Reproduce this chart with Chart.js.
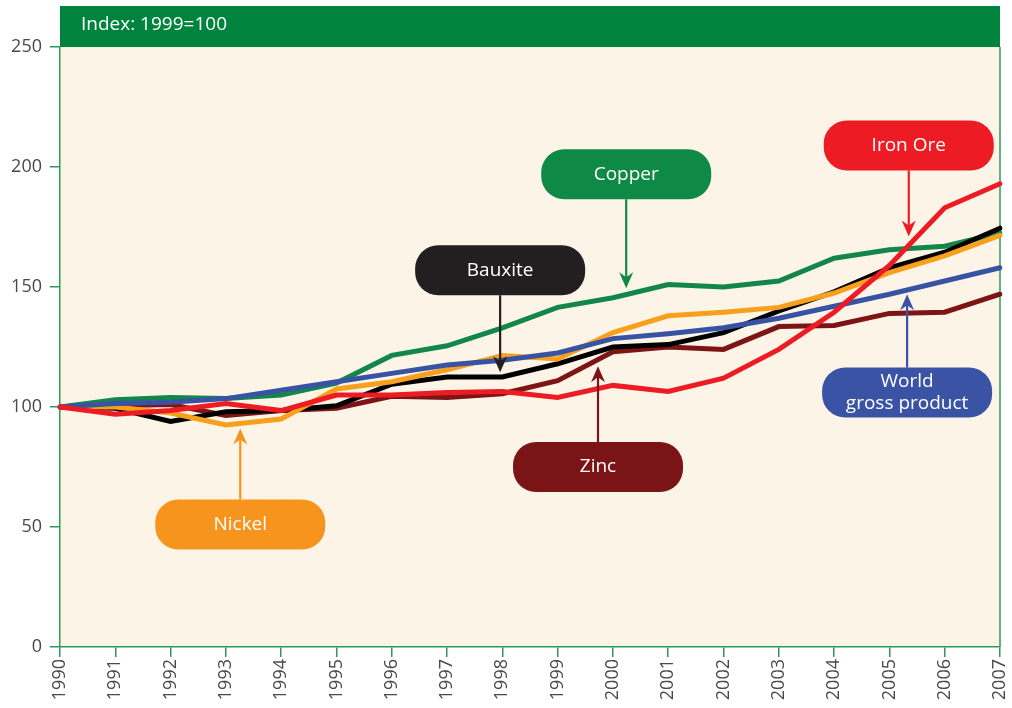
<!DOCTYPE html>
<html lang="en">
<head>
  <meta charset="UTF-8" />
  <title>Metal production index</title>
  <script src="https://cdn.jsdelivr.net/npm/chart.js"></script>
  <style>
    html, body { margin: 0; padding: 0; background: #fff; }
    #wrap { width: 1012px; height: 708px; }
  </style>
</head>
<body>
  <div id="wrap"><canvas id="chart" width="1012" height="708"></canvas></div>
  <script>
    const years = ['1990','1991','1992','1993','1994','1995','1996','1997','1998','1999',
                   '2000','2001','2002','2003','2004','2005','2006','2007'];
    const yTicks = [0, 50, 100, 150, 200, 250];

    const copper  = [100, 103, 104, 103.5, 105, 110, 121.5, 125.5, 133, 141.5, 145.5, 151, 150, 152.5, 162, 165.5, 167, 172.5];
    const ironOre = [100, 97, 98.5, 101.5, 98.5, 105, 105, 106, 106.5, 104, 109, 106.5, 112, 124, 139.5, 159, 183, 193];
    const zinc    = [100, 100.5, 101, 96.5, 98.5, 99.5, 104.5, 104, 105.5, 111, 123, 125, 124, 133.5, 134, 139, 139.5, 147];
    const bauxite = [100, 99.5, 94, 98, 98.5, 100.5, 109.5, 112.5, 112.5, 118, 125, 126, 131, 140, 148, 158, 164.5, 174.5];
    const nickel  = [100, 100, 97.5, 92.5, 95, 107.5, 110.5, 115.5, 121.5, 120, 131, 138, 139.5, 141.5, 147.5, 156, 163, 171.5];
    const world   = [100, 101.5, 102, 103.5, 107, 110.5, 114, 117.5, 119.5, 122.5, 128.5, 130.5, 133, 137, 142, 147, 152.5, 158];

    // label boxes: centre (x as year index, y as value) and arrow tip value
    const notes = [
      { text: ['Copper'], color: '#0f8a46', x: 10.24, y: 197, tip: 149.5 },
      { text: ['Bauxite'], color: '#231f20', x: 7.96, y: 157, tip: 114.5 },
      { text: ['Iron Ore'], color: '#ed1c24', x: 15.35, y: 209, tip: 171 },
      { text: ['Zinc'], color: '#7b1416', x: 9.73, y: 75, tip: 117 },
      { text: ['World', 'gross product'], color: '#3a53a4', x: 15.32, y: 106, tip: 147 },
      { text: ['Nickel'], color: '#f7941d', x: 3.26, y: 51, tip: 91 }
    ];

    const FONT = '"Open Sans", "Noto Sans", sans-serif';
    const GREEN = '#2e9a5a';

    function xPix(scale, v) {
      const p0 = scale.getPixelForValue(0);
      const p1 = scale.getPixelForValue(1);
      return p0 + v * (p1 - p0);
    }

    function roundRect(ctx, x, y, w, h, r) {
      ctx.beginPath();
      ctx.moveTo(x + r, y);
      ctx.arcTo(x + w, y, x + w, y + h, r);
      ctx.arcTo(x + w, y + h, x, y + h, r);
      ctx.arcTo(x, y + h, x, y, r);
      ctx.arcTo(x, y, x + w, y, r);
      ctx.closePath();
    }

    const frame = {
      id: 'frame',
      beforeDraw(chart) {
        const { ctx, chartArea: a } = chart;
        ctx.save();
        ctx.fillStyle = '#fcf5e7';
        ctx.fillRect(a.left, a.top, a.right - a.left, a.bottom - a.top);
        ctx.fillStyle = '#00843d';
        ctx.fillRect(a.left, 6, a.right - a.left, a.top - 6);
        ctx.fillStyle = '#fff';
        ctx.font = '19px ' + FONT;
        ctx.textBaseline = 'middle';
        ctx.fillText('Index: 1999=100', a.left + 21, 25);
        ctx.strokeStyle = GREEN;
        ctx.lineWidth = 1.5;
        ctx.beginPath();
        ctx.moveTo(a.right, a.top);
        ctx.lineTo(a.right, a.bottom);
        ctx.stroke();
        ctx.restore();
      },
      afterDatasetsDraw(chart) {
        const { ctx } = chart;
        const xs = chart.scales.x, ys = chart.scales.y;
        const w = 170, h = 50;
        ctx.save();
        notes.forEach(n => {
          const cx = xPix(xs, n.x);
          const cy = ys.getPixelForValue(n.y);
          const tipY = ys.getPixelForValue(n.tip);
          const up = tipY < cy;
          const startY = up ? cy - h / 2 : cy + h / 2;
          const dir = up ? -1 : 1;
          // arrow shaft
          ctx.strokeStyle = n.color;
          ctx.lineWidth = 2.2;
          ctx.beginPath();
          ctx.moveTo(cx, startY);
          ctx.lineTo(cx, tipY - dir * 8);
          ctx.stroke();
          // arrow head
          ctx.fillStyle = n.color;
          ctx.beginPath();
          ctx.moveTo(cx, tipY);
          ctx.lineTo(cx - 7, tipY - dir * 16);
          ctx.lineTo(cx, tipY - dir * 11);
          ctx.lineTo(cx + 7, tipY - dir * 16);
          ctx.closePath();
          ctx.fill();
          // box
          roundRect(ctx, cx - w / 2, cy - h / 2, w, h, 23);
          ctx.fill();
          ctx.fillStyle = '#fff';
          ctx.font = '19px ' + FONT;
          ctx.textAlign = 'center';
          ctx.textBaseline = 'middle';
          if (n.text.length === 1) {
            ctx.fillText(n.text[0], cx, cy);
          } else {
            ctx.fillText(n.text[0], cx, cy - 11);
            ctx.fillText(n.text[1], cx, cy + 11);
          }
        });
        ctx.restore();
      }
    };

    function ds(label, data, color) {
      return {
        label, data,
        borderColor: color,
        borderWidth: 5,
        pointRadius: 0,
        tension: 0,
        fill: false,
        borderJoinStyle: 'miter',
        borderCapStyle: 'round'
      };
    }

    new Chart(document.getElementById('chart'), {
      type: 'line',
      data: {
        labels: years,
        datasets: [
          ds('Iron Ore', ironOre, '#ed1c24'),
          ds('World gross product', world, '#3953a4'),
          ds('Nickel', nickel, '#f8a01c'),
          ds('Bauxite', bauxite, '#000000'),
          ds('Zinc', zinc, '#7d1416'),
          ds('Copper', copper, '#13874a')
        ]
      },
      options: {
        responsive: false,
        animation: false,
        layout: { padding: { top: 47, right: 0, left: 0, bottom: 0 } },
        plugins: {
          legend: { display: false },
          tooltip: { enabled: false }
        },
        scales: {
          x: {
            offset: false,
            grid: { drawOnChartArea: false, color: GREEN, tickLength: 10, lineWidth: 1.5 },
            border: { color: GREEN, width: 1.5 },
            ticks: {
              color: '#4a4a4a',
              font: { family: FONT, size: 18 },
              minRotation: 90, maxRotation: 90,
              padding: 2
            },
            afterFit(s) { s.height = 61; s.paddingRight = 12; }
          },
          y: {
            min: 0, max: 250,
            afterBuildTicks(s) { s.ticks = yTicks.map(v => ({ value: v })); },
            grid: { drawOnChartArea: false, color: GREEN, tickLength: 10, lineWidth: 1.5 },
            border: { color: GREEN, width: 1.5 },
            ticks: {
              color: '#4a4a4a',
              font: { family: FONT, size: 18 },
              padding: 8
            },
            afterFit(s) { s.width = 60; }
          }
        }
      },
      plugins: [frame]
    });
  </script>
</body>
</html>
